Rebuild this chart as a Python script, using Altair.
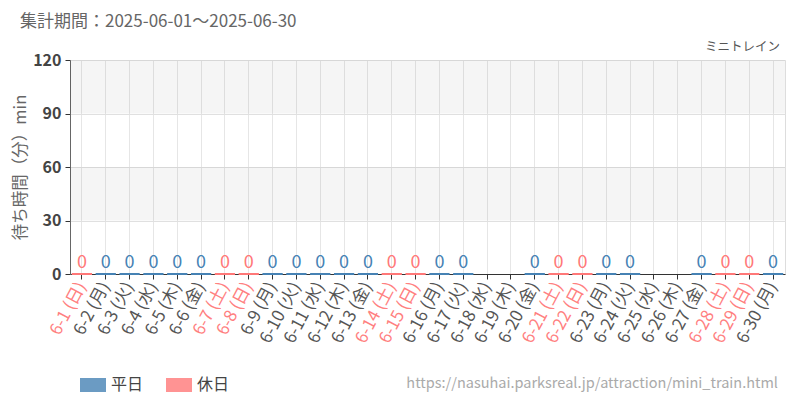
import altair as alt
import pandas as pd

days = [f"6-{d}" for d in range(1, 31)]
weekdays = ["日","月","火","水","木","金","土"] * 5
weekdays = weekdays[:30]
labels = [f"{d} ({w})" for d, w in zip(days, weekdays)]
day_type = ["休日" if w in ("土", "日") else "平日" for w in weekdays]
# wait times (min); None = no data
wait = [0, 0, 0, 0, 0, 0, 0, 0, 0, 0,
        0, 0, 0, 0, 0, 0, 0, None, None, 0,
        0, 0, 0, 0, None, None, 0, 0, 0, 0]

band_lo = [30, 90]
band_hi = [60, 120]
y_ticks = [0, 30, 60, 90, 120]

type_domain = ["平日", "休日"]
type_colors = ["#4682b4", "#ff7878"]

FONT = "Noto Sans CJK JP"

df = pd.DataFrame({"label": labels, "type": day_type, "wait": wait}).dropna()
bands = pd.DataFrame({"lo": band_lo, "hi": band_hi})

holiday_labels = [l for l, t in zip(labels, day_type) if t == "休日"]
hol_test = "indexof([" + ",".join(f"'{l}'" for l in holiday_labels) + "], datum.value) >= 0"

xscale = alt.Scale(domain=labels, paddingInner=0.15)
yscale = alt.Scale(domain=[0, 120], nice=False)

base = alt.Chart(df)

band_layer = alt.Chart(bands).mark_rect(color="#000000", opacity=0.04).encode(
    y=alt.Y("lo:Q", scale=yscale),
    y2="hi:Q",
    x=alt.value(0),
    x2=alt.value(715),
)

bars = base.mark_bar(fillOpacity=0.8, strokeWidth=2.2).encode(
    x=alt.X("label:N", scale=xscale, sort=labels,
            axis=alt.Axis(title=None, labelAngle=298, labelFontSize=17,
                          labelColor={"condition": {"test": hol_test, "value": "#ff8080"}, "value": "#555555"},
                          labelFont=FONT, grid=True, gridColor="#e6e6e6",
                          domainColor="#333333", tickColor="#333333", tickSize=5,
                          labelPadding=4)),
    y=alt.Y("wait:Q", scale=yscale,
            axis=alt.Axis(values=y_ticks, title="待ち時間（分）min", titleFontSize=16.5,
                          titleColor="#666666", titleFontWeight="normal", titleFont=FONT,
                          titleX=-50, titleY=107, titleAngle=270, titleAlign="center",
                          titleBaseline="middle",
                          labelFontSize=16, labelFontWeight="bold", labelColor="#444444",
                          labelFont=FONT, gridColor="#e0e0e0", domainColor="#666666",
                          tickColor="#333333", tickSize=5, labelPadding=4)),
    color=alt.Color("type:N", scale=alt.Scale(domain=type_domain, range=type_colors),
                    legend=alt.Legend(title=None, orient="none", legendX=10, legendY=312,
                                      direction="horizontal",
                                      symbolType="M-1,-0.54H1V0.54H-1Z", symbolSize=676,
                                      symbolOpacity=0.8, symbolStrokeWidth=0,
                                      labelFontSize=16, labelColor="#444444", labelFont=FONT,
                                      labelLimit=100, labelBaseline="middle",
                                      columnPadding=22, labelOffset=5)),
    stroke=alt.Stroke("type:N", scale=alt.Scale(domain=type_domain, range=type_colors), legend=None),
)

texts = base.mark_text(fontSize=18, baseline="bottom", dy=-2, font=FONT).encode(
    x=alt.X("label:N", scale=xscale, sort=labels),
    y=alt.Y("wait:Q", scale=yscale),
    text=alt.Text("wait:Q", format="d"),
    color=alt.Color("type:N", scale=alt.Scale(domain=type_domain, range=type_colors)),
)

ann = pd.DataFrame({
    "t": ["集計期間：2025-06-01～2025-06-30"],
})
title_layer = alt.Chart(ann).mark_text(align="left", baseline="middle", fontSize=17,
                                       color="#666666", font=FONT).encode(
    x=alt.value(-50), y=alt.value(-38), text="t:N")

ann2 = pd.DataFrame({"t": ["ミニトレイン"]})
sub_layer = alt.Chart(ann2).mark_text(align="right", baseline="middle", fontSize=12.5,
                                      color="#555555", font=FONT).encode(
    x=alt.value(710), y=alt.value(-13), text="t:N")

ann3 = pd.DataFrame({"t": ["https://nasuhai.parksreal.jp/attraction/mini_train.html"]})
url_layer = alt.Chart(ann3).mark_text(align="right", baseline="middle", fontSize=14.5,
                                      color="#aaaaaa", font=FONT).encode(
    x=alt.value(708), y=alt.value(324), text="t:N")

chart = alt.layer(band_layer, bars, texts, title_layer, sub_layer, url_layer).properties(
    width=715, height=214,
    autosize=alt.AutoSizeParams(type="none"),
    padding={"left": 62, "top": 52, "right": 7, "bottom": 118},
).configure_view(stroke=None).configure(font=FONT)

chart.save("out.html", embed_options={"renderer": "svg", "actions": False})
